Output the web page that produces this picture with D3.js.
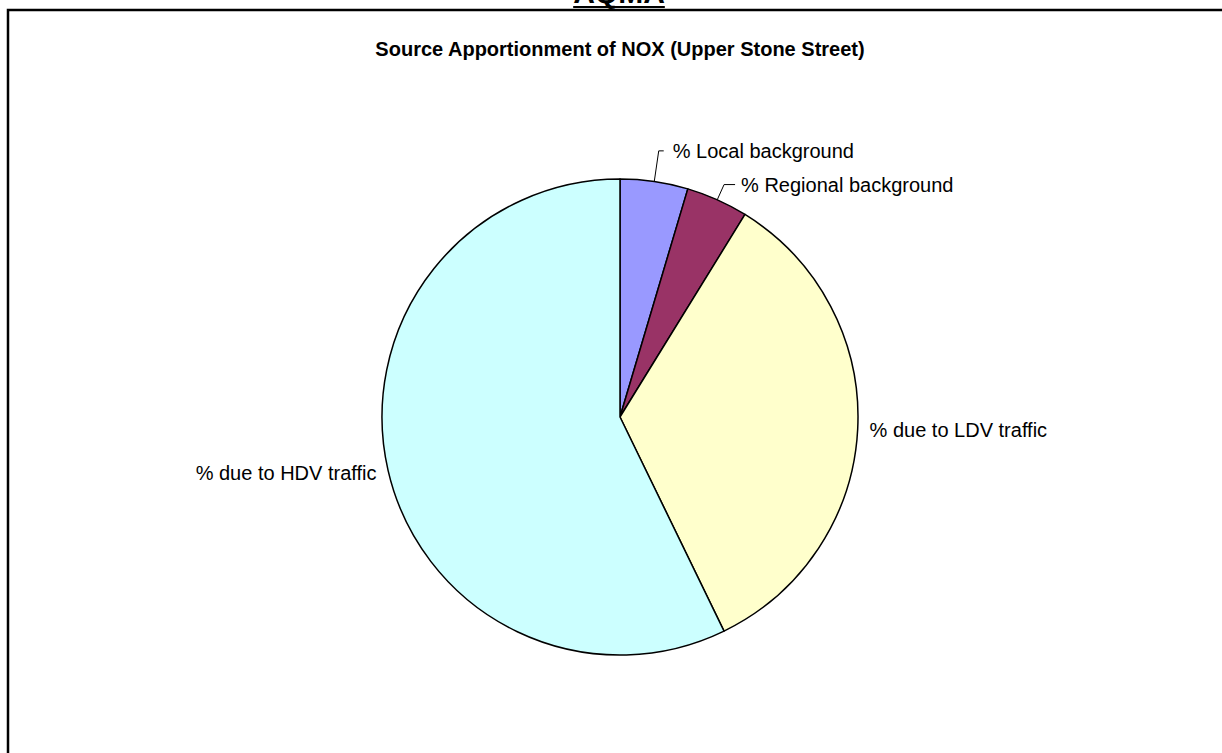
<!DOCTYPE html>
<html>
<head>
<meta charset="utf-8">
<script src="https://d3js.org/d3.v7.min.js"></script>
<style>
  body { margin: 0; background: #fff; }
  text { font-family: Arial, "Liberation Sans", sans-serif; fill: #000; }
</style>
</head>
<body>
<div id="chart"></div>
<script>
// data
var categories = ["% Local background", "% Regional background", "% due to LDV traffic", "% due to HDV traffic"];
var shares = [4.6, 4.2, 34.0, 57.2];
var sliceColors = ["#9999FF", "#993366", "#FFFFCC", "#CCFFFF"];

var svg_Width = 1222;
var svg_Height = 753;
var cx = 620, cy = 417, radius = 238;

var svg = d3.select("#chart")
    .append("svg")
    .attr("width", svg_Width)
    .attr("height", svg_Height);

// frame (left + top edges only visible)
svg.append("path")
    .attr("d", "M8," + svg_Height + "V10H" + svg_Width)
    .attr("fill", "none")
    .attr("stroke", "#000")
    .attr("stroke-width", 2.5);

// page heading, mostly cut off
var head = svg.append("text")
    .attr("x", 619)
    .attr("y", 3)
    .attr("text-anchor", "middle")
    .attr("font-size", "30px")
    .attr("font-weight", "bold")
    .text("AQMA");
var headW = head.node().getComputedTextLength();
svg.append("line")
    .attr("x1", 619 - headW / 2).attr("x2", 619 + headW / 2)
    .attr("y1", 7).attr("y2", 7)
    .attr("stroke", "#000").attr("stroke-width", 2);

svg.append("text")
    .attr("x", 620)
    .attr("y", 56)
    .attr("text-anchor", "middle")
    .attr("font-size", "20px")
    .attr("font-weight", "bold")
    .text("Source Apportionment of NOX (Upper Stone Street)");

var data = categories.map(function(c, i) { return {name: c, value: shares[i], color: sliceColors[i]}; });

var pie = d3.pie().sort(null).value(function(d) { return d.value; });
var arc = d3.arc().innerRadius(0).outerRadius(radius);
var arcs = pie(data);

var g = svg.append("g").attr("transform", "translate(" + cx + "," + cy + ")");

g.selectAll("path.slice")
    .data(arcs)
    .enter()
    .append("path")
    .attr("class", "slice")
    .attr("d", arc)
    .attr("fill", function(d) { return d.data.color; })
    .attr("stroke", "#000")
    .attr("stroke-width", 1.5)
    .attr("stroke-linejoin", "round");

// label layout: radial factor, leader or not, anchor side
var labelLayout = [
  {k: 1.13, leader: true, tick: 5, gap: 14},
  {k: 1.07, leader: true, tick: 11, gap: 17},
  {k: 1.05, leader: false},
  {k: 1.05, leader: false}
];

function pointAt(d, k) {
  var a = (d.startAngle + d.endAngle) / 2;
  return [Math.sin(a) * radius * k, -Math.cos(a) * radius * k];
}

arcs.forEach(function(d, i) {
  var L = labelLayout[i];
  var p = pointAt(d, L.k);
  if (L.leader) {
    var p0 = pointAt(d, 1);
    g.append("polyline")
      .attr("points", [p0, p, [p[0] + L.tick, p[1]]].map(function(q) { return q.join(","); }).join(" "))
      .attr("fill", "none")
      .attr("stroke", "#000")
      .attr("stroke-width", 1);
    g.append("text")
      .attr("x", p[0] + L.gap)
      .attr("y", p[1])
      .attr("dy", "0.35em")
      .attr("font-size", "20px")
      .text(d.data.name);
  } else {
    var mid = (d.startAngle + d.endAngle) / 2;
    g.append("text")
      .attr("x", p[0])
      .attr("y", p[1])
      .attr("dy", "0.35em")
      .attr("text-anchor", mid > Math.PI ? "end" : "start")
      .attr("font-size", "20px")
      .text(d.data.name);
  }
});
</script>
</body>
</html>
